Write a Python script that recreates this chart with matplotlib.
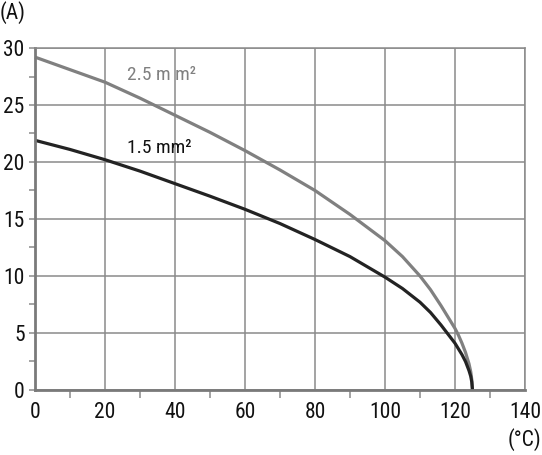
import matplotlib
matplotlib.use("Agg")
import matplotlib.pyplot as plt
from matplotlib.ticker import MultipleLocator

# values
temp_25 = [0, 10, 20, 30, 40, 50, 60, 70, 80, 90, 100, 105, 110, 113, 116, 118, 120, 121, 122, 123, 124, 124.5, 124.8, 125]
amps_25 = [29.2, 28.1, 27.0, 25.6, 24.1, 22.6, 21.0, 19.3, 17.5, 15.4, 13.1, 11.7, 10.0, 8.8, 7.4, 6.4, 5.4, 4.8, 4.1, 3.3, 2.3, 1.6, 0.9, 0.0]

temp_15 = [0, 10, 20, 30, 40, 50, 60, 70, 80, 90, 100, 105, 110, 113, 116, 118, 120, 121, 122, 123, 124, 124.5, 124.8, 125]
amps_15 = [21.9, 21.1, 20.2, 19.2, 18.1, 17.0, 15.85, 14.6, 13.2, 11.7, 9.9, 8.9, 7.7, 6.8, 5.7, 4.9, 4.1, 3.6, 3.1, 2.5, 1.7, 1.2, 0.7, 0.0]

x_ticks = [0, 20, 40, 60, 80, 100, 120, 140]
y_ticks = [0, 5, 10, 15, 20, 25, 30]

plt.rcParams['font.family'] = ['Roboto Condensed', 'Liberation Sans', 'DejaVu Sans']

fig = plt.figure(figsize=(5.42, 4.55), dpi=100)
ax = fig.add_axes([0.0646, 0.1429, 0.904, 0.7516])

grid_col = '#8a8a8a'
ax.set_xlim(0, 140)
ax.set_ylim(0, 30)
ax.set_xticks(x_ticks)
ax.set_yticks(y_ticks)
ax.xaxis.set_minor_locator(MultipleLocator(10))
ax.yaxis.set_minor_locator(MultipleLocator(2.5))
ax.grid(True, which='major', color=grid_col, linewidth=1.1)
ax.set_axisbelow(True)

ax.tick_params(axis='x', which='major', length=0, pad=8.5, labelsize=15.5, colors='#111111')
ax.tick_params(axis='x', which='minor', length=6, width=1.1, color=grid_col)
ax.tick_params(axis='y', which='major', length=4.5, width=1.1, pad=3, labelsize=15.5,
               color=grid_col, labelcolor='#111111')
ax.tick_params(axis='y', which='minor', length=4.5, width=1.1, color=grid_col)

for side in ['top', 'right']:
    ax.spines[side].set_color(grid_col)
    ax.spines[side].set_linewidth(1.1)
for side in ['left', 'bottom']:
    ax.spines[side].set_color('#7a7a7a')
    ax.spines[side].set_linewidth(2.0)

ax.plot(temp_25, amps_25, color='#808080', linewidth=2.3, solid_capstyle='butt', clip_on=False)
ax.plot(temp_15, amps_15, color='#232323', linewidth=2.3, solid_capstyle='butt', clip_on=False)

ax.text(26.3, 27.6, '2.5 m m²', color='#808080', fontsize=14, va='center', ha='left')
ax.text(26.3, 21.2, '1.5 mm²', color='#111111', fontsize=14, va='center', ha='left')

fig.text(0.0, 0.998, '(A)', fontsize=15.5, va='top', ha='left', color='#111111')
fig.text(0.998, 0.008, '(°C)', fontsize=15.5, va='bottom', ha='right', color='#111111')

fig.savefig('out.png', dpi=100)
